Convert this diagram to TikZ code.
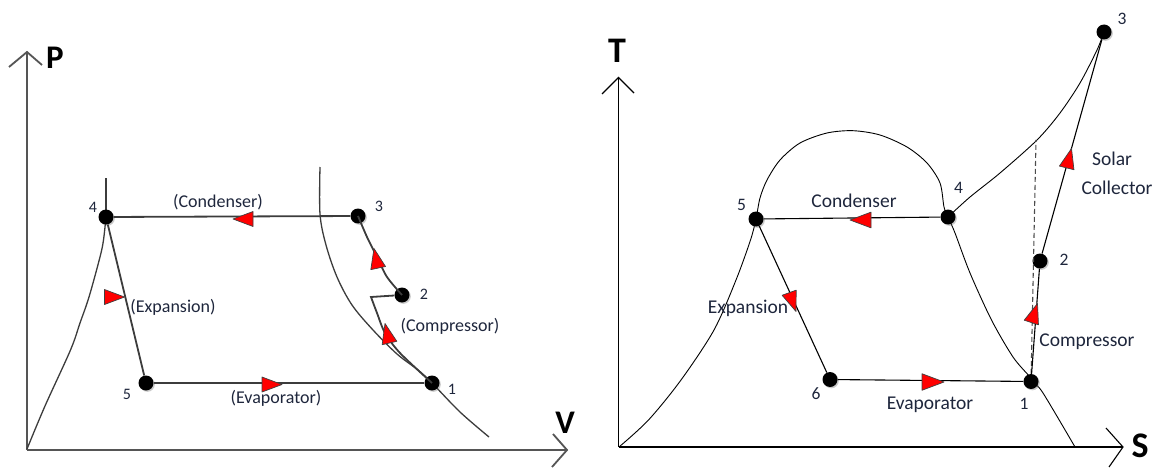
\documentclass[tikz,border=0pt]{standalone}
\usepackage{fontspec}
\setmainfont{Carlito}
\usetikzlibrary{shadows}
\definecolor{txt}{RGB}{30,38,60}
\definecolor{lgray}{RGB}{60,60,60}
\definecolor{axgray}{RGB}{85,85,85}
\definecolor{trired}{RGB}{255,0,0}
\begin{document}
\begin{tikzpicture}[x=1pt,y=-1pt,
  lline/.style={draw=lgray, line width=1.8pt},
  rline/.style={draw=black, line width=1.1pt},
  laxis/.style={draw=axgray, line width=2.4pt},
  raxis/.style={draw=black, line width=1.4pt},
  dot/.style={circle, fill=black, inner sep=0pt, minimum size=15pt,
    drop shadow={shadow xshift=1.3pt, shadow yshift=-1.3pt, opacity=0.35, fill=black!60}},
  lnum/.style={text=txt, font=\fontsize{16}{18}\selectfont},
  rnum/.style={text=txt, font=\fontsize{17.5}{20}\selectfont},
  llab/.style={text=txt, font=\fontsize{18}{20}\selectfont},
  rlab/.style={text=txt, font=\fontsize{19.5}{22}\selectfont},
  axlab/.style={text=black, font=\bfseries\fontsize{33}{36}\selectfont},
  redtri/.pic={\draw[fill=trired, draw=black!75, line width=0.7pt, line join=round] (0,0) -- (-20,7.5) -- (-20,-7.5) -- cycle;}
]
\useasboundingbox (0,0) rectangle (1159,468);

% ================= LEFT: P-V =================
\coordinate (Lo) at (27,450);
\coordinate (Ptop) at (27,52);
\coordinate (Pa1) at (9,67);
\coordinate (Pa2) at (42,65);
\coordinate (Vend) at (567,450);
\coordinate (Va1) at (553,434);
\coordinate (Va2) at (552,467);
\draw[laxis] (Lo) -- (Ptop);
\draw[laxis, line width=1.8pt] (Pa1) -- (Ptop) -- (Pa2);
\draw[laxis] (Lo) -- (Vend);
\draw[laxis, line width=1.8pt] (Va1) -- (Vend) -- (Va2);
\node[axlab] (Plab) at (55,58) {P};
\node[axlab] (Vlab) at (565,423) {V};

% saturation curves
\draw[lline, line width=1.3pt] plot[smooth, tension=0.55] coordinates {(106,217) (103.5,240) (100,257) (89,297) (80,323) (70.5,350) (45,406) (27,449)};
\draw[lline, line width=1.3pt] (106,178) -- (106,217);
\draw[lline, line width=1.3pt] plot[smooth, tension=0.55] coordinates {(320,167) (320,214) (326,245) (337,277) (352,305) (373,330) (397,354) (418,370) (432,383) (460,412) (489,437)};

% points
\node[dot] (L4) at (106,217) {};
\node[dot] (L3) at (358,216) {};
\node[dot] (L2) at (402,295) {};
\node[dot] (L1) at (432,383) {};
\node[dot] (L5) at (146,383) {};

% process lines
\draw[lline] (L3) -- (L4);
\draw[lline] (L4) -- (L5);
\draw[lline] (L5) -- (L1);
\draw[lline] plot[smooth, tension=0.5] coordinates {(432,383) (400,353) (385,333) (377,313) (371,297)} -- (L2);
\draw[lline] plot[smooth, tension=0.5] coordinates {(402,295) (387,277) (377,257) (367,237) (358,216)};

% arrows
\pic[rotate=180] at (233,219) {redtri};
\pic at (124.5,297) {redtri};
\pic at (282,384.5) {redtri};
\pic[rotate=103] at (385,323.5) {redtri};
\pic[rotate=102] at (374,248.5) {redtri};

% labels
\node[lnum] (n4) at (93,207) {4};
\node[lnum] (n3) at (379,206) {3};
\node[lnum] (n2) at (424,294) {2};
\node[lnum] (n1) at (452,389) {1};
\node[lnum] (n5) at (127,394) {5};
\node[llab] (cond) at (218,202) {(Condenser)};
\node[llab] (expa) at (173,307.5) {(Expansion)};
\node[llab] (comp) at (450,326.5) {(Compressor)};
\node[llab] (evap) at (276,398.5) {(Evaporator)};

% ================= RIGHT: T-S =================
\coordinate (Ro) at (618.5,447);
\coordinate (Ttop) at (618.5,77.5);
\coordinate (Ta1) at (602,94);
\coordinate (Ta2) at (634,93);
\coordinate (Send) at (1123,447);
\coordinate (Sa1) at (1106,428);
\coordinate (Sa2) at (1109,467);
\draw[raxis] (Ro) -- (Ttop);
\draw[raxis, line width=1.1pt] (Ta1) -- (Ttop) -- (Ta2);
\draw[raxis] (Ro) -- (Send);
\draw[raxis, line width=1.1pt] (Sa1) -- (Send) -- (Sa2);
\node[axlab, font=\bfseries\fontsize{36}{38}\selectfont] (Tlab) at (617,51) {T};
\node[axlab, font=\bfseries\fontsize{36}{38}\selectfont] (Slab) at (1140,446) {S};

% dome
\draw[rline, line width=0.9pt] plot[smooth, tension=0.5] coordinates {(619,447) (648.5,420) (681,380) (714,330) (736,280) (750.5,240) (756,219) (760,198) (767,180) (780,160) (800,143) (827,133) (853,130.7) (880,135) (907,147) (927,163) (940,183) (944,207) (948,217) (955,233) (970,273) (991.5,320) (1013,357) (1030,377) (1033,382) (1043,393) (1075,447)};
% superheated line
\draw[rline, line width=0.9pt] plot[smooth, tension=0.5] coordinates {(948,217) (970,197) (1000,173) (1037,140) (1060,113) (1080,83) (1097,50) (1104,32)};
\coordinate (Dtop) at (1036,140);

% points
\node[dot] (R5) at (756,219) {};
\node[dot] (R4) at (948,217) {};
\node[dot] (R6) at (830,379.5) {};
\node[dot] (R1) at (1031,381.5) {};
\node[dot] (R2) at (1040,261) {};
\node[dot] (R3) at (1104,32) {};

\draw[rline, dashed, draw=black!70, dash pattern=on 5pt off 3pt] (R1) -- (Dtop);
\draw[rline] (R4) -- (R5);
\draw[rline] (R5) -- (R6);
\draw[rline] (R6) -- (R1);
\draw[rline] (R1) -- (R2);
\draw[rline] (R2) -- (R3);

% arrows
\pic[rotate=180, scale=1.05] at (850,220) {redtri};
\pic[rotate=-70] at (796,311.5) {redtri};
\pic[scale=1.1] at (944,382) {redtri};
\pic[rotate=72] at (1037.5,303.5) {redtri};
\pic[rotate=76] at (1071.5,148.5) {redtri};

% labels
\node[rnum] (m5) at (741.5,205) {5};
\node[rnum] (m4) at (958.5,187.5) {4};
\node[rnum] (m6) at (816,393.5) {6};
\node[rnum] (m1) at (1024,403.5) {1};
\node[rnum] (m2) at (1064,259.5) {2};
\node[rnum] (m3) at (1122,18.5) {3};
\node[rlab] (rcond) at (854,201) {Condenser};
\node[rlab] (rexp) at (748,308.5) {Expansion};
\node[rlab] (revap) at (930,405) {Evaporator};
\node[rlab] (rcomp) at (1087,341.5) {Compressor};
\node[rlab] (rsol) at (1112,159) {Solar};
\node[rlab] (rcol) at (1117,187.5) {Collector};
\end{tikzpicture}
\end{document}
